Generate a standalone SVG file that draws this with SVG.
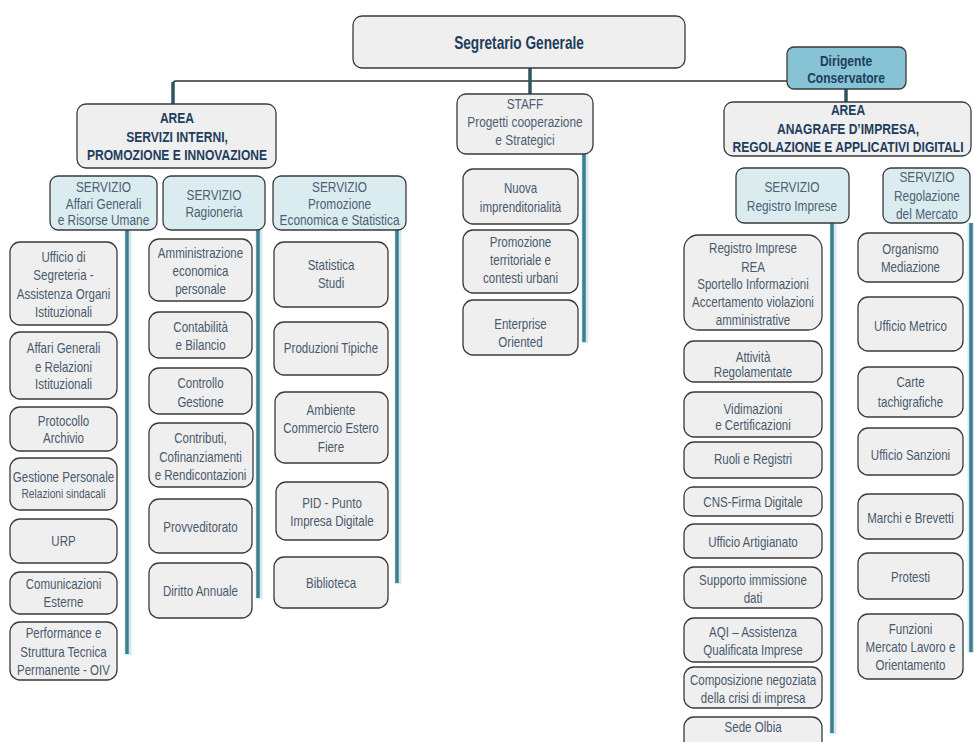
<svg xmlns="http://www.w3.org/2000/svg" width="974" height="742" viewBox="0 0 974 742">
<style>
.b{fill:#efeff0;stroke:#3a3a3a;stroke-width:1.3}
.s{fill:#dbecf1;stroke:#3a3a3a;stroke-width:1.3}
.d{fill:#86c3d4;stroke:#3a3a3a;stroke-width:1.3}
text{font-family:"Liberation Sans",Arial,sans-serif;text-anchor:middle;transform-box:fill-box;transform-origin:center;transform:scaleX(0.78)}
.t{font-size:14.8px;fill:#4a5a6a}
.sv{font-size:15.2px;fill:#4d6072}
.sm{font-size:13px}
.h{font-size:15.5px;font-weight:bold;fill:#1f3d5c}
.hh{font-size:17.5px;font-weight:bold;fill:#1f3d5c}
.thin{stroke:#333;stroke-width:1.5;fill:none}
.stub{stroke:#2e5560;stroke-width:3.5;fill:none}
.glow{stroke:#bcd9e1;stroke-width:7;opacity:0.6;fill:none}
.col{stroke:#3e7f8e;stroke-width:3.5;fill:none}
</style>

<g id="connectors">
  <path class="thin" d="M173 104 V84 Q173 81 176 81 H787"/>
  <line class="stub" x1="173" y1="82" x2="173" y2="104"/>
  <line class="stub" x1="530" y1="68" x2="530" y2="94"/>
  <line class="stub" x1="846" y1="89" x2="846" y2="102"/>
  <line class="glow" x1="128" y1="230" x2="128" y2="655"/>
  <line class="col" x1="127" y1="230" x2="127" y2="654"/>
  <line class="glow" x1="259" y1="230" x2="259" y2="599"/>
  <line class="col" x1="258" y1="230" x2="258" y2="598"/>
  <line class="glow" x1="398" y1="230" x2="398" y2="584"/>
  <line class="col" x1="397" y1="230" x2="397" y2="583"/>
  <line class="glow" x1="585" y1="154" x2="585" y2="343"/>
  <line class="col" x1="584" y1="154" x2="584" y2="342"/>
  <line class="glow" x1="833" y1="223" x2="833" y2="734"/>
  <line class="col" x1="832" y1="223" x2="832" y2="733"/>
  <line class="glow" x1="971" y1="223" x2="971" y2="653"/>
  <line class="col" x1="971" y1="223" x2="971" y2="652"/>
</g>

<g id="segretario"><rect class="b" x="353" y="16" width="332" height="52" rx="9"/>
<text class="hh" x="519" y="49">Segretario Generale</text></g>

<g id="dirigente"><rect class="d" x="787" y="47" width="119" height="42" rx="7"/>
<text class="h"><tspan x="846" y="66.5">Dirigente</tspan><tspan x="846" y="83.5">Conservatore</tspan></text></g>

<g id="area-servizi-interni"><rect class="b" x="77" y="104" width="199" height="64" rx="9"/>
<text class="h"><tspan x="177" y="123.5">AREA</tspan><tspan x="177" y="142.5">SERVIZI INTERNI,</tspan><tspan x="177" y="160.5">PROMOZIONE E INNOVAZIONE</tspan></text></g>

<g id="staff"><rect class="b" x="457" y="94" width="136" height="60" rx="9"/>
<text class="sv"><tspan x="525" y="109">STAFF</tspan><tspan x="525" y="127">Progetti  cooperazione</tspan><tspan x="525" y="145">e Strategici</tspan></text></g>

<g id="area-anagrafe"><rect class="b" x="724" y="102" width="247" height="54" rx="9"/>
<text class="h"><tspan x="848" y="115.5">AREA</tspan><tspan x="848" y="134.5">ANAGRAFE  D’IMPRESA,</tspan><tspan x="848" y="152.5">REGOLAZIONE E APPLICATIVI DIGITALI</tspan></text></g>

<g id="servizio-affari-generali"><rect class="s" x="50" y="176" width="107" height="54" rx="8"/>
<text class="sv"><tspan x="103.5" y="192">SERVIZIO</tspan><tspan x="103.5" y="209">Affari  Generali</tspan><tspan x="103.5" y="225">e Risorse  Umane</tspan></text></g>

<g id="servizio-ragioneria"><rect class="s" x="163" y="176" width="102" height="54" rx="8"/>
<text class="sv"><tspan x="214" y="200">SERVIZIO</tspan><tspan x="214" y="217">Ragioneria</tspan></text></g>

<g id="servizio-promozione"><rect class="s" x="273" y="176" width="133" height="54" rx="8"/>
<text class="sv"><tspan x="339.5" y="192">SERVIZIO</tspan><tspan x="339.5" y="209">Promozione</tspan><tspan x="339.5" y="225">Economica  e Statistica</tspan></text></g>

<g id="servizio-registro-imprese"><rect class="s" x="736" y="168" width="113" height="55" rx="8"/>
<text class="sv"><tspan x="792" y="192">SERVIZIO</tspan><tspan x="792" y="211">Registro  Imprese</tspan></text></g>

<g id="servizio-regolazione"><rect class="s" x="883" y="168" width="87" height="55" rx="8"/>
<text class="sv"><tspan x="927" y="182">SERVIZIO</tspan><tspan x="927" y="201">Regolazione</tspan><tspan x="927" y="219">del Mercato</tspan></text></g>

<!-- column 1 -->
<g id="ufficio-segreteria"><rect class="b" x="10" y="242" width="107" height="83" rx="10"/>
<text class="t"><tspan x="63.5" y="262">Ufficio  di</tspan><tspan x="63.5" y="280">Segreteria -</tspan><tspan x="63.5" y="299">Assistenza  Organi</tspan><tspan x="63.5" y="317">Istituzionali</tspan></text></g>
<g id="affari-generali-relazioni"><rect class="b" x="10" y="332" width="107" height="67" rx="10"/>
<text class="t"><tspan x="63.5" y="353">Affari Generali</tspan><tspan x="63.5" y="372">e Relazioni</tspan><tspan x="63.5" y="389">Istituzionali</tspan></text></g>
<g id="protocollo"><rect class="b" x="10" y="407" width="107" height="44" rx="10"/>
<text class="t"><tspan x="63.5" y="426">Protocollo</tspan><tspan x="63.5" y="443">Archivio</tspan></text></g>
<g id="gestione-personale"><rect class="b" x="10" y="458" width="107" height="52" rx="10"/>
<text class="t"><tspan x="63.5" y="482">Gestione  Personale</tspan><tspan class="sm" x="63.5" y="498">Relazioni  sindacali</tspan></text></g>
<g id="urp"><rect class="b" x="10" y="519" width="107" height="44" rx="10"/>
<text class="t" x="63.5" y="546">URP</text></g>
<g id="comunicazioni"><rect class="b" x="10" y="572" width="107" height="42" rx="10"/>
<text class="t"><tspan x="63.5" y="589">Comunicazioni</tspan><tspan x="63.5" y="607">Esterne</tspan></text></g>
<g id="performance"><rect class="b" x="10" y="622" width="107" height="58" rx="10"/>
<text class="t"><tspan x="63.5" y="638">Performance  e</tspan><tspan x="63.5" y="657">Struttura  Tecnica</tspan><tspan x="63.5" y="675">Permanente  - OIV</tspan></text></g>

<!-- column 2 -->
<g id="amministrazione"><rect class="b" x="149" y="239" width="103" height="62" rx="10"/>
<text class="t"><tspan x="200.5" y="258">Amministrazione</tspan><tspan x="200.5" y="276">economica</tspan><tspan x="200.5" y="294">personale</tspan></text></g>
<g id="contabilita"><rect class="b" x="149" y="312" width="103" height="46" rx="10"/>
<text class="t"><tspan x="200.5" y="332">Contabilità</tspan><tspan x="200.5" y="350">e Bilancio</tspan></text></g>
<g id="controllo"><rect class="b" x="149" y="368" width="103" height="46" rx="10"/>
<text class="t"><tspan x="200.5" y="388">Controllo</tspan><tspan x="200.5" y="407">Gestione</tspan></text></g>
<g id="contributi"><rect class="b" x="149" y="423" width="104" height="64" rx="10"/>
<text class="t"><tspan x="200.5" y="443">Contributi,</tspan><tspan x="200.5" y="462">Cofinanziamenti</tspan><tspan x="200.5" y="480">e Rendicontazioni</tspan></text></g>
<g id="provveditorato"><rect class="b" x="149" y="499" width="103" height="54" rx="10"/>
<text class="t" x="200.5" y="532">Provveditorato</text></g>
<g id="diritto-annuale"><rect class="b" x="149" y="563" width="103" height="55" rx="10"/>
<text class="t" x="200.5" y="596">Diritto  Annuale</text></g>

<!-- column 3 -->
<g id="statistica"><rect class="b" x="274" y="242" width="114" height="65" rx="10"/>
<text class="t"><tspan x="331" y="270">Statistica</tspan><tspan x="331" y="288">Studi</tspan></text></g>
<g id="produzioni-tipiche"><rect class="b" x="274" y="322" width="114" height="53" rx="10"/>
<text class="t" x="331" y="353">Produzioni  Tipiche</text></g>
<g id="ambiente"><rect class="b" x="275" y="392" width="113" height="71" rx="10"/>
<text class="t"><tspan x="331" y="415">Ambiente</tspan><tspan x="331" y="433">Commercio  Estero</tspan><tspan x="331" y="452">Fiere</tspan></text></g>
<g id="pid"><rect class="b" x="276" y="482" width="112" height="58" rx="10"/>
<text class="t"><tspan x="332" y="508">PID - Punto</tspan><tspan x="332" y="526">Impresa  Digitale</tspan></text></g>
<g id="biblioteca"><rect class="b" x="274" y="557" width="114" height="51" rx="10"/>
<text class="t" x="331" y="588">Biblioteca</text></g>

<!-- staff column -->
<g id="nuova-imprenditorialita"><rect class="b" x="463" y="169" width="115" height="55" rx="10"/>
<text class="t"><tspan x="520.5" y="193">Nuova</tspan><tspan x="520.5" y="212">imprenditorialità</tspan></text></g>
<g id="promozione-territoriale"><rect class="b" x="463" y="230" width="115" height="63" rx="10"/>
<text class="t"><tspan x="520.5" y="247">Promozione</tspan><tspan x="520.5" y="265">territoriale  e</tspan><tspan x="520.5" y="283">contesti  urbani</tspan></text></g>
<g id="enterprise-oriented"><rect class="b" x="463" y="300" width="115" height="55" rx="10"/>
<text class="t"><tspan x="520.5" y="329">Enterprise</tspan><tspan x="520.5" y="347">Oriented</tspan></text></g>

<!-- registro imprese column -->
<g id="registro-rea"><rect class="b" x="684" y="235" width="138" height="95" rx="14"/>
<text class="t"><tspan x="753" y="253">Registro  Imprese</tspan><tspan x="753" y="272">REA</tspan><tspan x="753" y="289">Sportello  Informazioni</tspan><tspan x="753" y="307">Accertamento  violazioni</tspan><tspan x="753" y="325">amministrative</tspan></text></g>
<g id="attivita-regolamentate"><rect class="b" x="684" y="341" width="138" height="41" rx="10"/>
<text class="t"><tspan x="753" y="362">Attività</tspan><tspan x="753" y="377">Regolamentate</tspan></text></g>
<g id="vidimazioni"><rect class="b" x="684" y="392" width="138" height="45" rx="10"/>
<text class="t"><tspan x="753" y="414">Vidimazioni</tspan><tspan x="753" y="430">e Certificazioni</tspan></text></g>
<g id="ruoli-registri"><rect class="b" x="684" y="442" width="138" height="36" rx="10"/>
<text class="t" x="753" y="464">Ruoli e Registri</text></g>
<g id="cns-firma"><rect class="b" x="684" y="487" width="138" height="29" rx="9"/>
<text class="t" x="753" y="507">CNS-Firma  Digitale</text></g>
<g id="ufficio-artigianato"><rect class="b" x="684" y="524" width="138" height="34" rx="10"/>
<text class="t" x="753" y="547">Ufficio   Artigianato</text></g>
<g id="supporto-immissione"><rect class="b" x="684" y="567" width="138" height="41" rx="10"/>
<text class="t"><tspan x="753" y="585">Supporto  immissione</tspan><tspan x="753" y="603">dati</tspan></text></g>
<g id="aqi"><rect class="b" x="684" y="618" width="138" height="44" rx="10"/>
<text class="t"><tspan x="753" y="637">AQI – Assistenza</tspan><tspan x="753" y="655">Qualificata  Imprese</tspan></text></g>
<g id="composizione-negoziata"><rect class="b" x="684" y="667" width="138" height="41" rx="10"/>
<text class="t"><tspan x="753" y="685">Composizione  negoziata</tspan><tspan x="753" y="703">della crisi  di impresa</tspan></text></g>
<g id="sede-olbia"><rect class="b" x="684" y="717" width="138" height="40" rx="10"/>
<text class="t" x="753" y="732">Sede Olbia</text></g>

<!-- regolazione column -->
<g id="organismo-mediazione"><rect class="b" x="858" y="233" width="105" height="49" rx="10"/>
<text class="t"><tspan x="910.5" y="254">Organismo</tspan><tspan x="910.5" y="272">Mediazione</tspan></text></g>
<g id="ufficio-metrico"><rect class="b" x="858" y="297" width="105" height="54" rx="10"/>
<text class="t" x="910.5" y="331">Ufficio  Metrico</text></g>
<g id="carte-tachigrafiche"><rect class="b" x="858" y="367" width="105" height="50" rx="10"/>
<text class="t"><tspan x="910.5" y="387">Carte</tspan><tspan x="910.5" y="407">tachigrafiche</tspan></text></g>
<g id="ufficio-sanzioni"><rect class="b" x="858" y="428" width="105" height="47" rx="10"/>
<text class="t" x="910.5" y="460">Ufficio  Sanzioni</text></g>
<g id="marchi-brevetti"><rect class="b" x="858" y="494" width="105" height="45" rx="10"/>
<text class="t" x="910.5" y="523">Marchi e Brevetti</text></g>
<g id="protesti"><rect class="b" x="858" y="553" width="105" height="46" rx="10"/>
<text class="t" x="910.5" y="582">Protesti</text></g>
<g id="funzioni-mercato-lavoro"><rect class="b" x="858" y="614" width="105" height="65" rx="10"/>
<text class="t"><tspan x="910.5" y="634">Funzioni</tspan><tspan x="910.5" y="652">Mercato  Lavoro e</tspan><tspan x="910.5" y="670">Orientamento</tspan></text></g>
</svg>
